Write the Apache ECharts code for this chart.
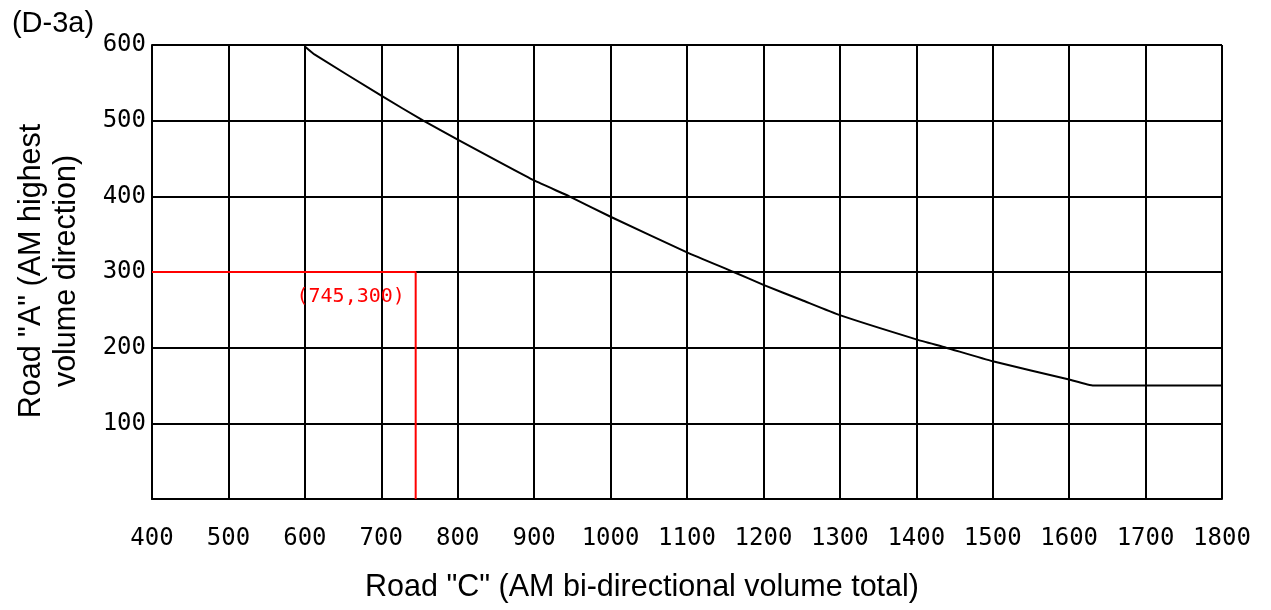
<!DOCTYPE html>
<html>
<head>
<meta charset="utf-8">
<script src="https://cdn.jsdelivr.net/npm/echarts@6/dist/echarts.min.js"></script>
<style>
  html, body { margin: 0; padding: 0; background: #fff; }
  #chart { width: 1271px; height: 610px; }
</style>
</head>
<body>
<div id="chart"></div>
<script>
// Threshold curve: Road "C" volume (x) vs Road "A" volume (y)
const curveX = [600, 612, 700, 755, 800, 900, 946, 1000, 1100, 1161, 1200, 1250, 1300, 1400, 1439, 1500, 1600, 1632, 1800];
const curveY = [598, 588, 533, 500, 475, 421, 400, 373, 326, 300, 283, 263, 243, 211, 200, 182, 158, 150, 150];

// Example reading marked in red
const markX = [400, 745, 745];
const markY = [300, 300, 0];
const markLabel = '(745,300)';

// Axis tick values
const xTicks = [400, 500, 600, 700, 800, 900, 1000, 1100, 1200, 1300, 1400, 1500, 1600, 1700, 1800];
const yTicks = [0, 100, 200, 300, 400, 500, 600];

const chart = echarts.init(document.getElementById('chart'));
const tickFont = { fontFamily: 'DejaVu Sans Mono', fontSize: 24, color: '#000' };

chart.setOption({
  animation: false,
  backgroundColor: '#fff',
  grid: { left: 152, right: 49, top: 45, bottom: 111 },
  xAxis: {
    type: 'value',
    min: xTicks[0], max: xTicks[xTicks.length - 1], interval: 100,
    axisLine: { show: true, lineStyle: { color: '#000', width: 2 } },
    axisTick: { show: false },
    axisLabel: Object.assign({ margin: 28, formatter: v => String(v) }, tickFont),
    splitLine: { show: true, lineStyle: { color: '#000', width: 2 } }
  },
  yAxis: {
    type: 'value',
    min: yTicks[0], max: yTicks[yTicks.length - 1], interval: 100,
    axisLine: { show: true, lineStyle: { color: '#000', width: 2 } },
    axisTick: { show: false },
    axisLabel: Object.assign({ margin: 6, formatter: v => (v === 0 ? '' : String(v)) }, tickFont),
    splitLine: { show: true, lineStyle: { color: '#000', width: 2 } }
  },
  graphic: [
    { type: 'text', x: 53, y: 24, style: { text: '(D-3a)', font: '29px "Liberation Sans"', fill: '#000', align: 'center', verticalAlign: 'middle' } },
    { type: 'text', x: 642, y: 588, style: { text: 'Road "C" (AM bi-directional volume total)', font: '30.5px "Liberation Sans"', fill: '#000', align: 'center', verticalAlign: 'middle' } },
    { type: 'text', x: 49, y: 271, rotation: Math.PI / 2,
      style: { text: 'Road "A" (AM highest\nvolume direction)', font: '30.5px "Liberation Sans"', lineHeight: 35, fill: '#000', align: 'center', verticalAlign: 'middle' } }
  ],
  series: [
    {
      type: 'line',
      data: curveX.map((x, i) => [x, curveY[i]]),
      symbol: 'none',
      smooth: 0.15,
      lineStyle: { color: '#000', width: 2 },
      z: 3
    },
    {
      type: 'line',
      data: markX.map((x, i) => [x, markY[i]]),
      symbol: 'none',
      lineStyle: { color: '#ff0000', width: 2 },
      z: 4,
      markPoint: {
        symbol: 'circle', symbolSize: 0,
        data: [{ coord: [markX[1], markY[1]] }],
        label: {
          show: true, formatter: markLabel, color: '#ff0000',
          fontFamily: 'DejaVu Sans Mono', fontSize: 20,
          offset: [-65, 25]
        }
      }
    }
  ]
});
</script>
</body>
</html>
